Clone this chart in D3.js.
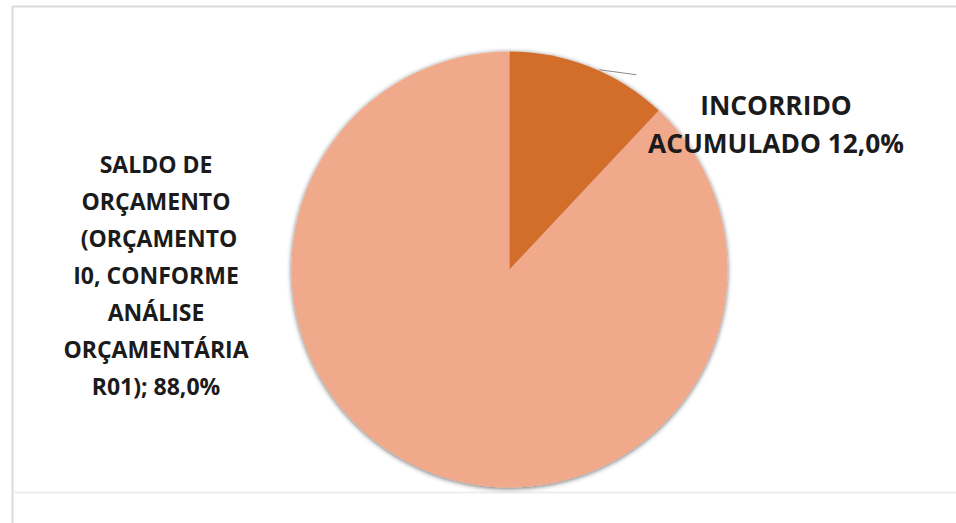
<!DOCTYPE html>
<html>
<head>
<meta charset="UTF-8">
<script src="https://cdnjs.cloudflare.com/ajax/libs/d3/7.8.5/d3.min.js"></script>
<style>
  body { margin: 0; background: #fff; }
  svg { display: block; }
  .lbl { font-family: "Open Sans", sans-serif; font-weight: 700; fill: #1b1b1b; }
</style>
</head>
<body>
<svg width="956" height="523"></svg>
<script>
// data
var categories = ["INCORRIDO ACUMULADO", "SALDO DE ORÇAMENTO (ORÇAMENTO I0, CONFORME ANÁLISE ORÇAMENTÁRIA R01)"];
var values = [12.0, 88.0];
var colors = ["#d26e2c", "#f0a98a"];
var labelLines = [
    ["INCORRIDO", "ACUMULADO 12,0%"],
    ["SALDO DE", "ORÇAMENTO", " (ORÇAMENTO", "I0, CONFORME", "ANÁLISE", "ORÇAMENTÁRIA", "R01); 88,0%"]
];

var svg = d3.select("svg"),
    cx = 509.5,
    cy = 269.5,
    radius = 218;

// frame lines of the chart area
svg.append("line").attr("x1", 12.5).attr("x2", 956).attr("y1", 6.5).attr("y2", 6.5)
    .attr("stroke", "#dadada").attr("stroke-width", 2);
svg.append("line").attr("x1", 12.5).attr("x2", 12.5).attr("y1", 6).attr("y2", 523)
    .attr("stroke", "#dadada").attr("stroke-width", 2);
svg.append("line").attr("x1", 13).attr("x2", 956).attr("y1", 492.5).attr("y2", 492.5)
    .attr("stroke", "#eeeeee").attr("stroke-width", 2);

var defs = svg.append("defs");
var f = defs.append("filter").attr("id", "shadow")
    .attr("x", "-10%").attr("y", "-10%").attr("width", "120%").attr("height", "120%");
f.append("feGaussianBlur").attr("in", "SourceAlpha").attr("stdDeviation", 2.4).attr("result", "b");
f.append("feOffset").attr("in", "b").attr("dx", 0).attr("dy", 1).attr("result", "o");
f.append("feComponentTransfer").attr("in", "o").attr("result", "s")
    .append("feFuncA").attr("type", "linear").attr("slope", 0.6);
var m = f.append("feMerge");
m.append("feMergeNode").attr("in", "s");
m.append("feMergeNode").attr("in", "SourceGraphic");

var pie = d3.pie().sort(null).value(function(d) { return d; });
var arc = d3.arc().innerRadius(0).outerRadius(radius);
var arcs = pie(values);

var g = svg.append("g").attr("transform", "translate(" + cx + "," + cy + ")");

g.append("g").attr("filter", "url(#shadow)")
  .selectAll("path")
  .data(arcs)
  .enter().append("path")
    .attr("d", arc)
    .attr("fill", function(d, i) { return colors[i]; });

// leader line for the small slice
var a0 = arcs[0].startAngle + (arcs[0].endAngle - arcs[0].startAngle) * 0.56;
var p0 = [Math.sin(a0) * (radius + 1), -Math.cos(a0) * (radius + 1)];
g.append("line")
    .attr("x1", p0[0]).attr("y1", p0[1])
    .attr("x2", p0[0] + 37).attr("y2", p0[1] + 5)
    .attr("stroke", "#8c8c8c").attr("stroke-width", 1);

// data labels
var labelPos = [[776, 115], [156, 173]];
var lineStep = [38, 37];
var fontSize = [26.3, 23];
labelLines.forEach(function(lines, i) {
    var t = svg.append("text").attr("class", "lbl")
        .attr("text-anchor", "middle")
        .attr("font-size", fontSize[i])
        .attr("x", labelPos[i][0]).attr("y", labelPos[i][1])
        .attr("xml:space", "preserve");
    lines.forEach(function(s, j) {
        t.append("tspan").attr("x", labelPos[i][0])
            .attr("y", labelPos[i][1] + j * lineStep[i]).text(s);
    });
});
</script>
</body>
</html>
